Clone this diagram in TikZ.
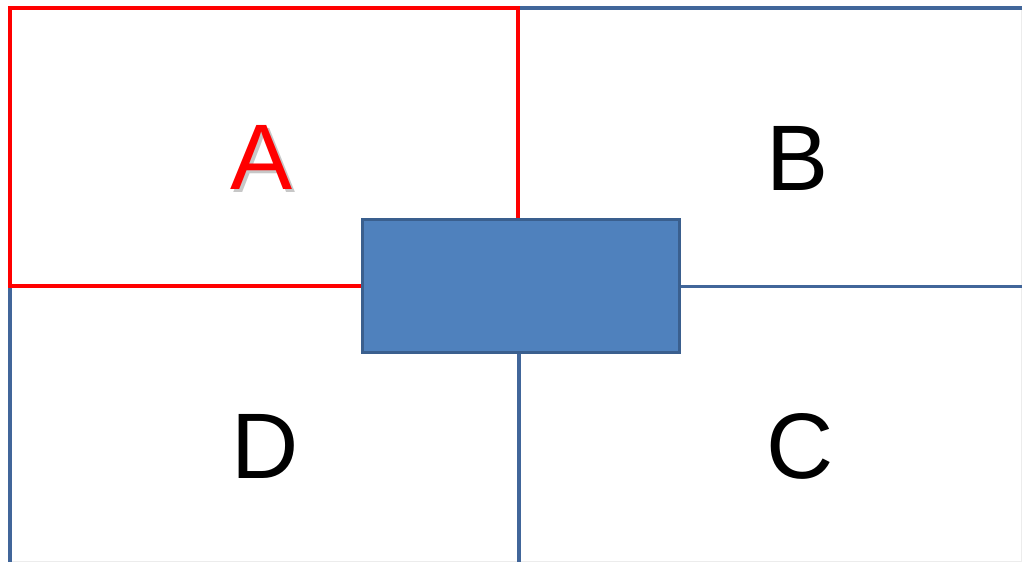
\documentclass[tikz,border=0pt]{standalone}
\usepackage{fontspec}
\setmainfont{Liberation Sans}
\usepackage{tikz}
\definecolor{boxblue}{HTML}{4F81BD}
\definecolor{edgeblue}{HTML}{3A5F8E}
\definecolor{lineblue}{HTML}{41669A}

\begin{document}
\begin{tikzpicture}[x=0.02cm, y=-0.02cm,
                    letter node/.style={anchor=base,inner sep=0pt,font=\fontsize{53}{53}\selectfont},
                    grid line/.style={lineblue,line width=2.1pt},
                    quad line/.style={red,line width=2.8pt}]

  \useasboundingbox (0,0) rectangle (1022,562);

  \coordinate (tl) at (10,8);
  \coordinate (tm) at (518,8);
  \coordinate (tr) at (1022,8);
  \coordinate (ml) at (10,286);
  \coordinate (mm) at (518,286);
  \coordinate (mr) at (1022,286.5);
  \coordinate (bl) at (10,562);
  \coordinate (bm) at (519,562);

  % faint outer frame
  \draw[gray!15,line width=0.5pt] (1021.5,8) -- (1021.5,561.5) -- (10,561.5);

  % blue grid
  \draw[grid line] (tm) -- (tr);
  \draw[grid line] (ml) -- (bl);
  \draw[grid line] (mm |- mr) -- (mr);
  \draw[grid line] (519,286) -- (bm);

  % quadrant A
  \draw[quad line] (tl) rectangle (mm);

  \node[draw=edgeblue,fill=boxblue,line width=1.6pt,inner sep=0pt,
        minimum width=6.33cm,minimum height=2.67cm] (block) at (521,286) {};

  \node[letter node,text=black!22] (Ashadow) at (265,192) {A};
  \node[letter node,text=red] (A) at (262,189) {A};
  \node[letter node] (B) at (798,190) {B};
  \node[letter node] (C) at (800,478) {C};
  \node[letter node] (D) at (265,478) {D};

\end{tikzpicture}
\end{document}
